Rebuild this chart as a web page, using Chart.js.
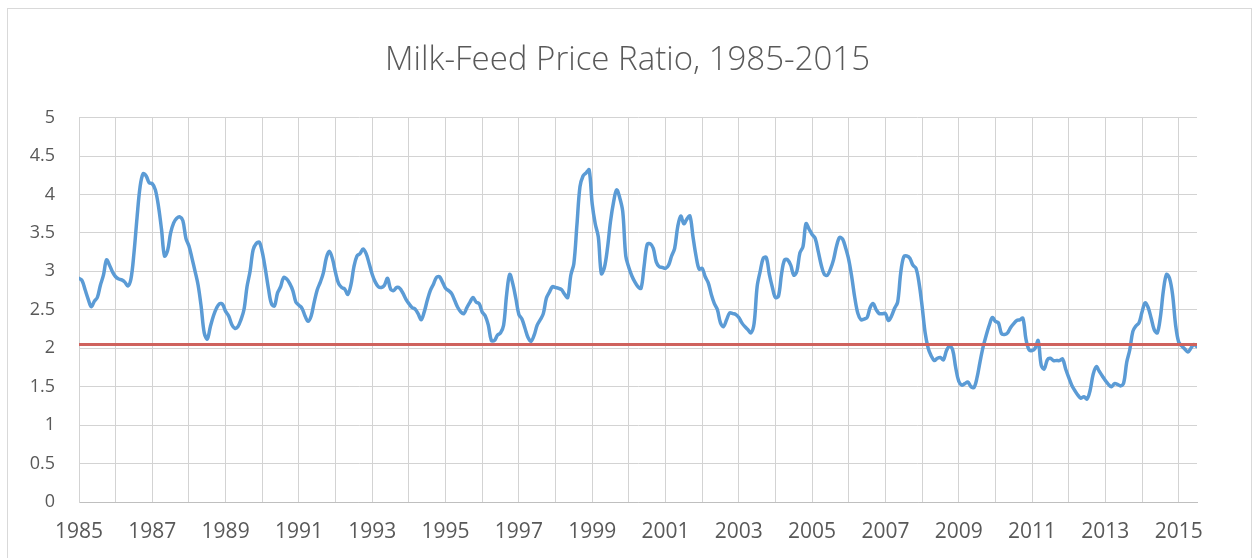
<!DOCTYPE html>
<html>
<head>
<meta charset="utf-8">
<title>Milk-Feed Price Ratio</title>
<script src="https://cdn.jsdelivr.net/npm/chart.js@4"></script>
<style>
  html, body { margin: 0; padding: 0; background: #fff; overflow: hidden; }
  #frame {
    position: absolute; left: 7px; top: 8px; width: 1245px; height: 600px;
    border: 1px solid #D9D9D9; box-sizing: border-box;
  }
  #ratioChart { position: absolute; left: 0; top: 0; }
</style>
</head>
<body>
<div id="frame"></div>
<canvas id="ratioChart" width="1255" height="558"></canvas>
<script>
// monthly milk-feed price ratio, Jan 1985 .. Jul 2015
const startYear = 1985;
const monthlyRatio = [
  2.91, 2.88, 2.76, 2.64, 2.54, 2.61, 2.66, 2.82, 2.95, 3.15, 3.08, 2.99, // 1985
  2.93, 2.90, 2.89, 2.86, 2.81, 2.90, 3.24, 3.70, 4.10, 4.27, 4.24, 4.15, // 1986
  4.14, 4.06, 3.85, 3.55, 3.20, 3.27, 3.50, 3.63, 3.69, 3.71, 3.66, 3.43, // 1987
  3.33, 3.17, 3.00, 2.82, 2.54, 2.20, 2.12, 2.28, 2.42, 2.52, 2.58, 2.57, // 1988
  2.48, 2.42, 2.31, 2.26, 2.28, 2.37, 2.50, 2.80, 3.00, 3.28, 3.36, 3.38, // 1989
  3.25, 3.03, 2.78, 2.58, 2.55, 2.72, 2.80, 2.92, 2.90, 2.84, 2.75, 2.60, // 1990
  2.56, 2.52, 2.42, 2.35, 2.42, 2.60, 2.76, 2.86, 2.98, 3.18, 3.26, 3.16, // 1991
  2.98, 2.84, 2.79, 2.77, 2.70, 2.82, 3.06, 3.20, 3.23, 3.29, 3.23, 3.10, // 1992
  2.96, 2.86, 2.80, 2.79, 2.82, 2.91, 2.77, 2.75, 2.79, 2.78, 2.72, 2.64, // 1993
  2.58, 2.53, 2.51, 2.45, 2.37, 2.47, 2.62, 2.75, 2.83, 2.92, 2.93, 2.86, // 1994
  2.78, 2.75, 2.71, 2.62, 2.53, 2.47, 2.45, 2.53, 2.60, 2.66, 2.60, 2.58, // 1995
  2.47, 2.42, 2.30, 2.10, 2.10, 2.17, 2.20, 2.30, 2.70, 2.96, 2.84, 2.65, // 1996
  2.44, 2.38, 2.26, 2.14, 2.09, 2.17, 2.30, 2.37, 2.45, 2.65, 2.73, 2.80, // 1997
  2.79, 2.78, 2.76, 2.70, 2.66, 2.95, 3.10, 3.60, 4.10, 4.24, 4.28, 4.32, // 1998
  3.88, 3.62, 3.45, 2.97, 3.05, 3.30, 3.65, 3.90, 4.06, 3.96, 3.78, 3.20, // 1999
  3.05, 2.94, 2.86, 2.80, 2.78, 3.07, 3.35, 3.36, 3.30, 3.12, 3.06, 3.05, // 2000
  3.04, 3.08, 3.20, 3.30, 3.58, 3.72, 3.62, 3.68, 3.72, 3.45, 3.20, 3.03, // 2001
  3.04, 2.93, 2.85, 2.70, 2.58, 2.50, 2.33, 2.28, 2.37, 2.46, 2.45, 2.44, // 2002
  2.40, 2.33, 2.28, 2.24, 2.20, 2.32, 2.80, 3.00, 3.17, 3.18, 2.96, 2.79, // 2003
  2.66, 2.68, 2.97, 3.15, 3.15, 3.08, 2.95, 3.00, 3.24, 3.32, 3.62, 3.55, // 2004
  3.48, 3.43, 3.26, 3.08, 2.96, 2.95, 3.03, 3.15, 3.33, 3.44, 3.42, 3.30, // 2005
  3.15, 2.92, 2.65, 2.45, 2.37, 2.38, 2.40, 2.53, 2.58, 2.50, 2.45, 2.45, // 2006
  2.45, 2.36, 2.42, 2.52, 2.60, 2.98, 3.19, 3.20, 3.17, 3.08, 3.04, 2.85, // 2007
  2.55, 2.20, 2.00, 1.90, 1.84, 1.87, 1.88, 1.85, 1.97, 2.03, 1.98, 1.75, // 2008
  1.57, 1.52, 1.54, 1.56, 1.50, 1.49, 1.62, 1.83, 2.02, 2.17, 2.30, 2.40, // 2009
  2.35, 2.33, 2.19, 2.18, 2.20, 2.27, 2.32, 2.36, 2.37, 2.39, 2.12, 1.98, // 2010
  1.97, 2.00, 2.10, 1.78, 1.73, 1.85, 1.87, 1.84, 1.84, 1.84, 1.86, 1.73, // 2011
  1.62, 1.52, 1.45, 1.39, 1.35, 1.37, 1.34, 1.45, 1.66, 1.76, 1.70, 1.64, // 2012
  1.58, 1.53, 1.50, 1.54, 1.53, 1.51, 1.55, 1.82, 1.98, 2.22, 2.29, 2.33, // 2013
  2.47, 2.59, 2.53, 2.39, 2.24, 2.20, 2.40, 2.75, 2.96, 2.91, 2.70, 2.30, // 2014
  2.08, 2.03, 1.99, 1.95, 2.00, 2.05, 2.02                                // 2015
];
const referenceRatio = 2.05;
const yearTicks = Array.from({ length: 31 }, (_, i) => startYear + i);
const yearLabels = ['1985', '1987', '1989', '1991', '1993', '1995', '1997', '1999',
  '2001', '2003', '2005', '2007', '2009', '2011', '2013', '2015'];
const yTickLabels = ['0', '0.5', '1', '1.5', '2', '2.5', '3', '3.5', '4', '4.5', '5'];

document.addEventListener("DOMContentLoaded", function () {
  const ctx = document.getElementById("ratioChart").getContext("2d");

  const ratioPoints = monthlyRatio.map((v, i) => ({ x: startYear + i / 12, y: v }));
  const lastX = startYear + (monthlyRatio.length - 1) / 12;

  new Chart(ctx, {
    type: 'line',
    data: {
      datasets: [
        {
          label: 'Reference',
          data: [{ x: startYear, y: referenceRatio }, { x: lastX, y: referenceRatio }],
          borderColor: '#CF625D',
          borderWidth: 3,
          pointRadius: 0,
          order: 0
        },
        {
          label: 'Milk-Feed Price Ratio',
          data: ratioPoints,
          borderColor: '#5B9BD5',
          borderWidth: 3.5,
          pointRadius: 0,
          tension: 0.35,
          borderCapStyle: 'round',
          borderJoinStyle: 'round',
          order: 1
        }
      ]
    },
    options: {
      responsive: false,
      animation: false,
      layout: { padding: 0 },
      plugins: {
        legend: { display: false },
        tooltip: { enabled: false },
        title: {
          display: true,
          text: 'Milk-Feed Price Ratio, 1985-2015',
          color: '#595959',
          font: { family: 'Open Sans', size: 33, weight: '300', lineHeight: 1.2 },
          padding: { top: 41, bottom: 37 }
        }
      },
      scales: {
        x: {
          type: 'linear',
          min: startYear,
          max: lastX,
          afterBuildTicks: axis => { axis.ticks = yearTicks.map(v => ({ value: v })); },
          afterFit: axis => { axis.height = 56; },
          grid: { color: '#D3D3D3', lineWidth: 1, drawTicks: false },
          border: { color: '#BFBFBF', width: 1 },
          ticks: {
            autoSkip: false,
            maxRotation: 0,
            padding: 17,
            color: '#595959',
            font: { family: 'Open Sans', size: 21 },
            callback: v => yearLabels.includes(String(v)) ? String(v) : ''
          }
        },
        y: {
          min: 0,
          max: 5,
          afterFit: axis => { axis.width = 79; },
          grid: { color: '#D3D3D3', lineWidth: 1, drawTicks: false },
          border: { color: '#D3D3D3', width: 1 },
          ticks: {
            stepSize: 0.5,
            padding: 24,
            color: '#595959',
            font: { family: 'Open Sans', size: 18 },
            callback: (v, i) => yTickLabels[i]
          }
        },
        // empty right margin so the title stays centred on the whole frame
        rightSpace: {
          position: 'right',
          afterFit: axis => { axis.width = 58; },
          grid: { display: false },
          border: { display: false },
          ticks: { display: false }
        }
      }
    }
  });
});
</script>
</body>
</html>
